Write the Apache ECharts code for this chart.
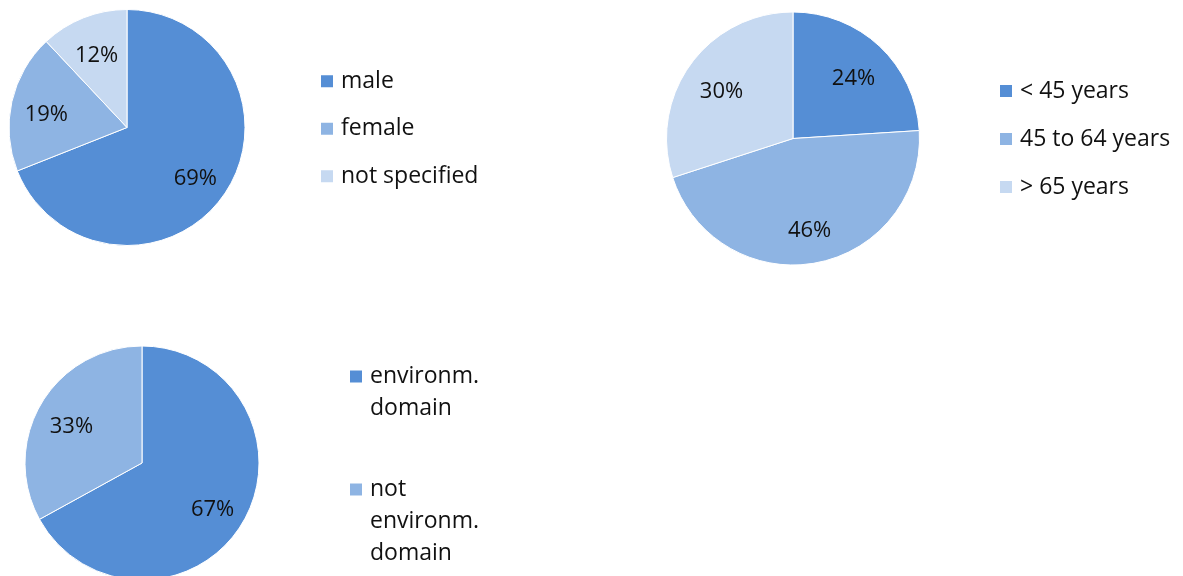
<!DOCTYPE html>
<html>
<head>
<meta charset="utf-8">
<script src="https://cdn.jsdelivr.net/npm/echarts@6/dist/echarts.min.js"></script>
<style>
    html, body { margin: 0; padding: 0; background: #fff; }
    #pieCharts { width: 1183px; height: 576px; }
</style>
</head>
<body>
<div id="pieCharts"></div>
<script>
    // chart data
    const genderNames = ['male', 'female', 'not specified'];
    const genderValues = [69, 19, 12];
    const ageNames = ['< 45 years', '45 to 64 years', '> 65 years'];
    const ageValues = [24, 46, 30];
    const domainNames = ['environm. domain', 'not environm. domain'];
    const domainValues = [67, 33];

    const colors = ['#558ED5', '#8EB4E3', '#C6D9F1'];
    const fontFamily = '"Open Sans", sans-serif';
    const textColor = '#111';

    function toData(names, values) {
        return names.map((n, i) => ({ name: n, value: values[i] }));
    }

    // one visible pie + one transparent ring that only carries the labels
    function makePie(names, values, center, r) {
        const data = toData(names, values);
        return [{
            type: 'pie',
            center: center,
            radius: r,
            startAngle: 90,
            clockwise: true,
            silent: true,
            data: data,
            itemStyle: { borderColor: '#fff', borderWidth: 1 },
            label: { show: false },
            labelLine: { show: false }
        }, {
            type: 'pie',
            center: center,
            radius: [r * 0.35, r],
            startAngle: 90,
            clockwise: true,
            silent: true,
            data: data,
            percentPrecision: 0,
            itemStyle: { color: 'rgba(0,0,0,0)' },
            label: {
                show: true,
                position: 'inside',
                // empty first line nudges the number a few px down
                formatter: '\n{d}%',
                lineHeight: 10,
                color: textColor,
                fontFamily: fontFamily,
                fontSize: 22
            },
            labelLine: { show: false }
        }];
    }

    const legendBase = {
        orient: 'vertical',
        padding: 0,
        icon: 'rect',
        itemWidth: 14,
        itemHeight: 14,
        selectedMode: false
    };
    const legendText = {
        color: textColor,
        fontFamily: fontFamily,
        fontSize: 23,
        lineHeight: 24,
        padding: [0, 0, 0, 2]
    };
    // one word per line, blank lines in front keep the first line level with the square
    const wrapWords = function (name) {
        const words = name.split(' ');
        return '\n'.repeat(words.length - 1) + words.join('\n');
    };
    const wrapText = Object.assign({}, legendText, { lineHeight: 32 });

    const chart = echarts.init(document.getElementById('pieCharts'));
    chart.setOption({
        animation: false,
        color: colors,
        legend: [Object.assign({}, legendBase, {
            data: genderNames,
            left: 319,
            top: 69.2,
            itemGap: 23.5,
            textStyle: legendText
        }), Object.assign({}, legendBase, {
            data: ageNames,
            left: 998,
            top: 79,
            itemGap: 24,
            textStyle: legendText
        }), Object.assign({}, legendBase, {
            data: [domainNames[0]],
            left: 348,
            top: 328.5,
            formatter: wrapWords,
            textStyle: wrapText
        }), Object.assign({}, legendBase, {
            data: [domainNames[1]],
            left: 348,
            top: 409.5,
            formatter: wrapWords,
            textStyle: wrapText
        })],
        series: [].concat(
            makePie(genderNames, genderValues, [127, 127.5], 118),
            makePie(ageNames, ageValues, [793, 138.5], 126.5),
            makePie(domainNames, domainValues, [142, 463], 117)
        )
    });
</script>
</body>
</html>
